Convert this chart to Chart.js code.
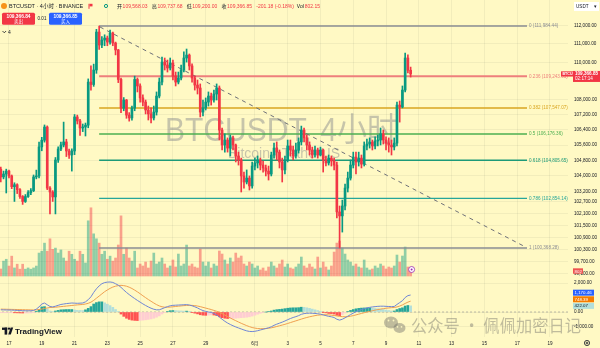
<!DOCTYPE html>
<html lang="zh-CN">
<head>
<meta charset="UTF-8">
<title>BTCUSDT 4小时</title>
<script src="https://cdn.jsdelivr.net/npm/chart.js"></script>
<style>
    html, body { margin: 0; padding: 0; background: #FFF9C4; }
    #wrap { width: 600px; height: 348px; }
</style>
</head>
<body>
<div id="wrap"><canvas id="chart" width="600" height="348"></canvas></div>
<script>
// 4h candles, first one 16 May 12:00, last one 10 Jun 12:00
const firstOpen = 104350;
const closes = [
    103950,104100,104250,104000,103450,103550,103300,102950,102700,102950,
    103150,103250,103950,104000,105500,105850,106540,103380,103180,102930,
    104820,105390,105600,105760,105290,105080,105290,107070,106860,106490,
    106540,106640,108930,108800,109580,111650,110940,111210,111320,111100,
    111600,111050,110670,109070,107540,107970,107170,107020,107540,109070,
    108720,108080,107860,107440,107230,107020,107330,108180,108930,110010,
    109850,109690,109960,109260,108930,109150,109580,110230,110390,109800,
    109150,108770,108610,107330,107550,107860,108180,107970,108290,108610,
    106380,105600,105860,105440,105970,105600,105030,104820,104000,103690,
    103890,103490,104510,104670,104820,104560,104410,104250,104100,105080,
    105440,105230,104720,104310,104820,105550,105340,105030,105340,105760,
    106380,105970,105600,105340,105080,105340,105080,105340,104820,104670,
    104920,104770,104560,102170,101970,102470,103380,103890,104560,104970,
    104720,104920,104610,105550,105650,105760,105550,105810,105860,106180,
    105860,105700,105600,105500,105700,107700,107600,108500,110230,109568.03,
    109366.85
];
const highs = [
    104450,104250,104350,104300,104050,103650,103600,103350,103000,103050,
    103250,103350,104050,104300,105750,106000,106650,106600,103450,103250,
    104950,105500,105750,106800,105900,105390,105400,107200,107170,106950,
    106700,106750,109100,109800,109900,111800,111984.44,111400,111500,111430,
    111760,111650,111100,110700,109150,108100,108000,107300,107650,109250,
    109150,108830,108240,107970,107650,107550,107650,108400,109150,110280,
    110230,110120,110230,110120,109470,109470,109850,110560,110720,110450,
    109910,109260,109040,108830,107970,108080,108400,108340,108500,108830,
    108720,106490,106180,105970,106120,106070,105650,105230,104920,104200,
    104310,104000,104720,104920,105030,104920,104770,104560,104510,105230,
    105700,105760,105340,104920,105030,105860,105860,105550,105700,105970,
    106590,106490,106120,105760,105490,105550,105440,105490,105390,105030,
    105080,105030,104920,104720,102470,102770,103590,104200,104820,105230,
    105230,105230,105080,105760,105910,105970,105860,106020,106120,106490,
    106380,106020,105970,105860,105970,107860,107920,108720,110500,110400,
    109737.68
];
const lows = [
    103700,103850,103130,103900,103350,102700,103100,102850,102550,102650,
    102900,103050,103200,103850,103900,105300,105750,103300,102070,102700,
    102070,104700,105300,105500,105000,104900,104250,105100,106700,106100,
    106300,106070,106500,108500,108700,109400,110700,110800,110900,110900,
    110990,110900,110400,108900,107300,107400,107000,106850,106900,107400,
    108400,107860,107650,107230,106910,106750,106910,107170,108080,108770,
    109580,109470,109580,109040,108720,108830,109040,109470,110010,109580,
    108930,108500,108290,107070,107120,107440,107650,107700,107860,107970,
    105860,105340,105230,105230,105030,105340,104720,104560,103180,103380,
    103590,103280,103380,104310,104410,104310,104200,104000,103790,104000,
    104920,104820,104410,103690,104100,104720,105030,104820,104920,105180,
    105600,105760,105340,105080,104920,104970,104920,105030,104200,104510,
    104560,104510,104310,101870,100368.28,101160,102270,103180,103790,104410,
    104100,104510,104410,104510,105340,105440,105340,105390,105550,105600,
    105650,105340,105230,105080,105340,105550,106800,107550,108400,109420,
    109200
];
const volumes = [
    1130,2400,2700,1600,3200,1300,1900,1100,1900,1100,
    1300,1100,1300,1600,3700,4000,5300,4000,6000,4300,
    4500,3700,4200,2900,2400,4000,3500,2700,2400,4000,
    3500,2100,8900,11000,6800,6000,5300,3500,4000,2700,
    3200,2400,2900,5000,9700,3500,4500,2900,2400,4000,
    1290,1930,1610,2250,1290,2410,3700,1930,2250,2900,
    1930,1290,1610,2580,1450,3540,1610,1930,4990,1610,
    1930,1450,1290,4350,2250,1610,2250,1290,1930,1610,
    4030,3540,2580,1930,2900,2250,3700,2900,3220,1930,
    1610,2250,1930,1290,1610,970,1290,810,1450,2250,
    1610,1290,1930,2580,1450,1930,1290,1130,1450,1930,
    3060,1610,1290,1930,1450,1130,3060,1290,2250,1450,
    970,1610,3860,5310,5640,4510,3540,2580,2250,1610,
    1930,1450,1290,2580,1290,970,1130,1610,1290,1930,
    1610,1130,1450,1290,1610,3380,2250,3220,4670,1450,
    802.15
];
const macdLine = [
    150,145,140,135,130,120,110,100,90,85,
    80,85,100,200,350,550,620,500,380,350,
    400,460,520,550,580,600,620,610,600,610,
    620,700,850,1050,1350,1600,1800,1950,2030,2060,
    2070,2040,1950,1850,1700,1520,1350,1200,1060,930,
    800,680,560,450,350,260,190,150,150,220,
    300,370,430,460,470,480,490,500,510,480,
    430,360,280,180,100,40,0,-30,-100,-200,
    -350,-500,-640,-760,-860,-950,-1030,-1100,-1170,-1240,
    -1300,-1340,-1350,-1330,-1290,-1240,-1190,-1140,-1090,-1020,
    -920,-840,-770,-700,-620,-530,-450,-380,-320,-250,
    -160,-110,-90,-80,-90,-100,-120,-150,-200,-250,
    -300,-330,-380,-500,-560,-500,-400,-290,-180,-80,
    20,100,170,230,280,320,350,370,390,400,
    400,390,380,370,380,520,650,780,1000,1130,
    1170.46
];
const signalLine = [
    200,195,190,185,180,175,170,165,160,155,
    150,145,140,150,170,200,250,280,310,320,
    330,350,370,390,410,430,450,470,490,505,
    520,550,600,680,800,950,1100,1250,1400,1520,
    1630,1720,1780,1820,1840,1820,1780,1710,1620,1510,
    1390,1260,1120,990,860,740,620,510,420,360,
    330,330,340,360,380,400,420,440,450,460,
    455,440,410,370,320,270,220,170,110,50,
    -20,-110,-210,-310,-410,-510,-600,-690,-780,-860,
    -940,-1010,-1070,-1110,-1140,-1150,-1150,-1140,-1120,-1090,
    -1050,-1000,-950,-900,-850,-790,-730,-670,-610,-550,
    -490,-430,-380,-330,-290,-250,-220,-200,-190,-190,
    -200,-220,-240,-270,-300,-320,-330,-320,-290,-250,
    -200,-150,-100,-50,0,40,90,130,170,200,
    230,260,280,300,310,350,410,490,590,680,
    748.39
];

// time axis: candle index of each day label
const dayTicks = [3, 15, 27, 39, 51, 63, 75, 93, 105, 117, 129, 141, 153, 165, 177, 189, 201];
const dayLabels = ['17', '19', '21', '23', '25', '27', '29', '6月', '3', '5', '7', '9', '11', '13', '15', '17', '19'];
const priceTicks = [112000, 111000, 110000, 108000, 107200, 106400, 105600, 104800, 104000, 103200, 102700, 102100, 101500, 100900, 100300, 99700, 99100];
const macdTicks = [2000, 0, -1000];

// fib retracement drawing
const fibRatios = [0, 0.236, 0.382, 0.5, 0.618, 0.786, 1];
const fibLevels = [111984.44, 109243.03, 107547.07, 106176.36, 104805.65, 102854.14, 100368.28];
const fibColors = ['#8a8c93', '#ee7f7c', '#d9a520', '#4caf50', '#1d9a78', '#26a69a', '#8a8c93'];
const fibSpan = [36, 192.6];
// dashed trend line
const trendX = [36.3, 191.9];
const trendY = [111930, 100430];

const FONT = "'Liberation Sans', Arial, 'Noto Sans CJK SC', sans-serif";
const CJK = "'Noto Sans CJK SC', sans-serif";
const UP = '#089981', DOWN = '#F23645';
const GRID = 'rgba(42, 46, 57, 0.06)';

Chart.defaults.font.family = FONT;

const n = closes.length;
const idx = closes.map((c, i) => i);
const opens = closes.map((c, i) => i === 0 ? firstOpen : closes[i - 1]);
const candleColors = idx.map(i => closes[i] >= opens[i] ? UP : DOWN);
const volColors = idx.map(i => closes[i] >= opens[i] ? 'rgba(8, 153, 129, 0.45)' : 'rgba(242, 54, 69, 0.45)');
const hist = idx.map(i => macdLine[i] - signalLine[i]);
const histColors = hist.map((h, i) => {
    const prev = i ? hist[i - 1] : h;
    if (h >= 0) return h >= prev ? '#26A69A' : '#B2DFDB';
    return h < prev ? '#FF5252' : '#FFCDD2';
});

function fmt(v) {
    return Number(v).toLocaleString('en-US', { minimumFractionDigits: 2, maximumFractionDigits: 2 });
}

// no label padding: the panes fill the canvas edge to edge like TradingView
function noPad(s) {
    s.paddingTop = 0; s.paddingBottom = 0; s.paddingLeft = 0; s.paddingRight = 0;
}

const fibSets = fibLevels.map((lv, k) => ({
    type: 'line',
    data: [{ x: fibSpan[0], y: lv }, { x: fibSpan[1], y: lv }],
    yAxisID: 'price',
    borderColor: fibColors[k],
    borderWidth: k === 1 ? 2 : 1.4,
    pointRadius: 0,
    order: 6
}));

const bgPlugin = {
    id: 'bg',
    beforeDraw(chart) {
        const c = chart.ctx;
        c.save();
        c.fillStyle = '#FFF9C4';
        c.fillRect(0, 0, chart.width, chart.height);
        c.restore();
    }
};

const watermarkPlugin = {
    id: 'watermark',
    beforeDatasetsDraw(chart) {
        const c = chart.ctx;
        c.save();
        c.fillStyle = 'rgba(120, 123, 134, 0.42)';
        c.textAlign = 'center';
        c.textBaseline = 'alphabetic';
        c.font = '33px ' + FONT;
        c.fillText('BTCUSDT, 4小时', 281, 141, 232);
        c.font = '14px ' + FONT;
        c.fillText('Bitcoin / TetherUS', 284, 158, 124);
        c.restore();
    }
};

function tag(c, x, y, w, h, bg, text, fg, size, bold) {
    c.fillStyle = bg;
    c.fillRect(x, y - h / 2, w, h);
    c.fillStyle = fg;
    c.font = (bold ? 'bold ' : '') + size + 'px ' + FONT;
    c.fillText(text, x + 1.5, y + 0.3);
}

function roundRect(c, x, y, w, h, r, fill) {
    c.beginPath();
    c.moveTo(x + r, y);
    c.arcTo(x + w, y, x + w, y + h, r);
    c.arcTo(x + w, y + h, x, y + h, r);
    c.arcTo(x, y + h, x, y, r);
    c.arcTo(x, y, x + w, y, r);
    c.closePath();
    c.fillStyle = fill;
    c.fill();
}

const overlayPlugin = {
    id: 'overlay',
    afterDraw(chart) {
        const c = chart.ctx;
        const xS = chart.scales.x, pS = chart.scales.price, mS = chart.scales.macd, vS = chart.scales.vol;
        c.save();
        c.textBaseline = 'middle';
        c.textAlign = 'left';

        // fib labels
        c.font = '4.6px ' + FONT;
        fibLevels.forEach((lv, k) => {
            c.fillStyle = fibColors[k];
            c.fillText(fibRatios[k] + ' (' + fmt(lv) + ')', xS.getPixelForValue(fibSpan[1]) + 2, pS.getPixelForValue(lv));
        });

        // header line
        c.fillStyle = '#F7931A';
        c.beginPath(); c.arc(4, 6, 3, 0, Math.PI * 2); c.fill();
        c.fillStyle = '#131722';
        c.font = '5.5px ' + FONT;
        c.fillText('BTCUSDT · 4小时 · BINANCE', 9, 6.3);
        c.fillStyle = '#F23645';
        c.fillRect(88.5, 3.8, 1, 5);
        c.fillRect(89.5, 3.8, 3, 2.6);
        c.strokeStyle = '#089981'; c.lineWidth = 1;
        c.beginPath(); c.arc(106, 6, 1.6, 0, Math.PI * 2); c.stroke();

        const last = n - 1;
        const chg = closes[last] - opens[last];
        const pairs = [['开', opens[last]], ['高', highs[last]], ['低', lows[last]], ['收', closes[last]]];
        let x = 117;
        c.font = '5px ' + FONT;
        pairs.forEach(([lab, v]) => {
            c.fillStyle = '#131722';
            c.fillText(lab, x, 6.3);
            x += c.measureText(lab).width + 0.6;
            c.fillStyle = DOWN;
            c.fillText(fmt(v), x, 6.3);
            x += c.measureText(fmt(v)).width + 4.2;
        });
        c.fillStyle = DOWN;
        const chgTxt = fmt(chg) + ' (' + (chg / opens[last] * 100).toFixed(2) + '%)';
        c.fillText(chgTxt, x, 6.3);
        x += c.measureText(chgTxt).width + 3;
        c.fillStyle = '#131722';
        c.fillText('Vol', x, 6.3);
        x += c.measureText('Vol').width + 1;
        c.fillStyle = DOWN;
        c.fillText(fmt(volumes[last]), x, 6.3);

        // buy / sell buttons
        c.textAlign = 'center';
        roundRect(c, 2, 12.7, 33, 12, 1.5, '#F23645');
        roundRect(c, 49, 12.7, 33, 12, 1.5, '#2962FF');
        c.fillStyle = '#fff';
        c.font = 'bold 4.8px ' + FONT;
        c.fillText('109,366.84', 18.5, 16.3);
        c.fillText('109,366.85', 65.5, 16.3);
        c.font = '4.5px ' + CJK;
        c.fillText('卖出', 18.5, 21.6);
        c.fillText('买入', 65.5, 21.6);
        c.fillStyle = '#131722';
        c.font = '4.5px ' + FONT;
        c.fillText('0.01', 42, 19);
        c.textAlign = 'left';
        c.strokeStyle = '#131722'; c.lineWidth = 0.8;
        c.beginPath(); c.moveTo(2.5, 31); c.lineTo(4.3, 32.8); c.lineTo(6.1, 31); c.stroke();
        c.font = '5px ' + FONT;
        c.fillText('4', 8, 32.2);

        // currency box
        c.fillStyle = '#fff';
        c.fillRect(574, 2, 25, 9);
        c.fillStyle = '#131722';
        c.font = '4.6px ' + FONT;
        c.fillText('USDT', 576, 6.8);
        c.fillText('▾', 594, 6.8);

        // last price tags
        const py = pS.getPixelForValue(closes[last]);
        tag(c, 561, py, 12, 5.2, '#F23645', 'BTCUSDT', '#fff', 3.6, true);
        c.fillStyle = '#F23645';
        c.fillRect(573, py - 3, 27, 11);
        c.fillStyle = '#fff';
        c.font = 'bold 4.6px ' + FONT;
        c.fillText(fmt(closes[last]), 575, py + 0.2);
        c.font = '4.6px ' + FONT;
        c.fillText('02:17:14', 575, py + 5.2);

        // volume tag
        tag(c, 573, vS.getPixelForValue(volumes[last]), 10, 5.4, '#EF5350', Math.round(volumes[last]).toString(), '#fff', 4.4, false);

        // macd tags, pushed apart so they do not overlap
        const tags = [
            { v: hist[last], bg: '#B2DFDB', fg: '#131722' },
            { v: signalLine[last], bg: '#F57C00', fg: '#fff' },
            { v: macdLine[last], bg: '#2962FF', fg: '#fff' }
        ];
        let prevY = Infinity;
        tags.forEach(t => {
            const ty = Math.min(mS.getPixelForValue(t.v), prevY - 6.6);
            tag(c, 573, ty, 21, 6, t.bg, fmt(t.v), t.fg, 4.4, false);
            prevY = ty;
        });

        // event marker
        const ex = xS.getPixelForValue(n - 1) + 1;
        c.strokeStyle = '#9C27B0'; c.lineWidth = 0.8;
        c.fillStyle = '#fff';
        c.beginPath(); c.arc(ex, 269.5, 3, 0, Math.PI * 2); c.fill(); c.stroke();
        c.fillStyle = '#9C27B0';
        c.beginPath(); c.arc(ex, 269.5, 1, 0, Math.PI * 2); c.fill();

        // gear icon
        c.strokeStyle = '#131722'; c.lineWidth = 0.8;
        c.beginPath(); c.arc(587, 343, 2.6, 0, Math.PI * 2); c.stroke();
        c.beginPath(); c.arc(587, 343, 0.9, 0, Math.PI * 2); c.stroke();

        // TradingView logo
        c.fillStyle = '#131722';
        c.fillRect(2, 327.6, 5.2, 2.3);
        c.fillRect(4.6, 327.6, 2.6, 7);
        c.beginPath(); c.arc(9, 328.7, 1.15, 0, Math.PI * 2); c.fill();
        c.beginPath(); c.moveTo(10.6, 327.6); c.lineTo(13.2, 327.6); c.lineTo(10.8, 334.6); c.lineTo(8.3, 334.6); c.closePath(); c.fill();
        c.font = 'bold 8px ' + FONT;
        c.fillText('TradingView', 15, 331.4);

        // account watermark
        c.fillStyle = 'rgba(105, 105, 100, 0.42)';
        c.beginPath(); c.ellipse(391, 322.5, 7, 6, 0, 0, Math.PI * 2); c.fill();
        c.beginPath(); c.ellipse(399.5, 328, 6, 5, 0, 0, Math.PI * 2); c.fill();
        c.fillStyle = 'rgba(255, 249, 196, 0.9)';
        [[388.5, 320.5], [393.5, 320.5], [397.5, 326.8], [401.5, 326.8]].forEach(([px, qy]) => {
            c.beginPath(); c.arc(px, qy, 0.9, 0, Math.PI * 2); c.fill();
        });
        c.fillStyle = 'rgba(105, 105, 100, 0.42)';
        c.font = '17.5px ' + CJK;
        c.textBaseline = 'alphabetic';
        c.fillText('公众号 · 佩佩加密日记', 411, 332, 170);
        c.restore();
    }
};

new Chart(document.getElementById('chart'), {
    type: 'bar',
    data: {
        datasets: [
            {
                type: 'bar', data: idx.map(i => ({ x: i, y: [opens[i], closes[i]] })), yAxisID: 'price',
                backgroundColor: candleColors, barThickness: 2, minBarLength: 1, grouped: false, order: 1
            },
            {
                type: 'bar', data: idx.map(i => ({ x: i, y: [lows[i], highs[i]] })), yAxisID: 'price',
                backgroundColor: candleColors, barThickness: 1, grouped: false, order: 2
            },
            {
                type: 'line', data: trendX.map((x, k) => ({ x, y: trendY[k] })), yAxisID: 'price',
                borderColor: '#6f7178', borderWidth: 1, borderDash: [4, 4], pointRadius: 0, order: 5
            },
            ...fibSets,
            {
                type: 'bar', data: idx.map(i => ({ x: i, y: volumes[i] })), yAxisID: 'vol',
                backgroundColor: volColors, barThickness: 2, grouped: false, order: 9
            },
            {
                type: 'line', data: [{ x: -1, y: 0 }, { x: 208, y: 0 }], yAxisID: 'macd',
                borderColor: 'rgba(120, 123, 134, 0.5)', borderWidth: 1, borderDash: [2, 2], pointRadius: 0, order: 8
            },
            {
                type: 'bar', data: idx.map(i => ({ x: i, y: hist[i] })), yAxisID: 'macd',
                backgroundColor: histColors, barThickness: 2, grouped: false, order: 4
            },
            {
                type: 'line', data: idx.map(i => ({ x: i, y: signalLine[i] })), yAxisID: 'macd',
                borderColor: '#F0A050', borderWidth: 1, pointRadius: 0, order: 3
            },
            {
                type: 'line', data: idx.map(i => ({ x: i, y: macdLine[i] })), yAxisID: 'macd',
                borderColor: '#6F86D6', borderWidth: 1, pointRadius: 0, order: 2
            }
        ]
    },
    options: {
        responsive: false,
        animation: false,
        events: [],
        layout: { padding: 0 },
        plugins: { legend: { display: false }, tooltip: { enabled: false } },
        scales: {
            x: {
                type: 'linear', min: -0.29, max: 207.6, offset: false,
                grid: { color: GRID, offset: false, drawTicks: false },
                border: { display: false },
                ticks: {
                    font: { size: 4.6 }, color: '#131722', padding: 3.5, maxRotation: 0, autoSkip: false,
                    callback: (v, k) => dayLabels[k]
                },
                afterBuildTicks: s => { s.ticks = dayTicks.map(v => ({ value: v })); },
                afterFit: s => { s.height = 11; noPad(s); }
            },
            price: {
                type: 'logarithmic', position: 'right', stack: 'right', stackWeight: 277,
                min: 98943, max: 113430, bounds: 'data',
                grid: { color: GRID, drawTicks: false },
                border: { display: false },
                ticks: { font: { size: 4.6 }, color: '#131722', padding: 6, autoSkip: false, callback: v => fmt(v) },
                afterBuildTicks: s => { s.ticks = priceTicks.map(v => ({ value: v })); },
                afterFit: s => { s.width = 32; noPad(s); }
            },
            macd: {
                type: 'linear', position: 'right', stack: 'right', stackWeight: 60,
                min: -1724, max: 2414, bounds: 'data',
                grid: { color: GRID, drawTicks: false },
                border: { display: false },
                ticks: { font: { size: 4.6 }, color: '#131722', padding: 6, autoSkip: false, callback: v => fmt(v) },
                afterBuildTicks: s => { s.ticks = macdTicks.map(v => ({ value: v })); },
                afterFit: s => { s.width = 32; noPad(s); }
            },
            vol: { type: 'linear', display: false, min: -9840, max: 44516 }
        }
    },
    plugins: [bgPlugin, watermarkPlugin, overlayPlugin]
});
</script>
</body>
</html>
